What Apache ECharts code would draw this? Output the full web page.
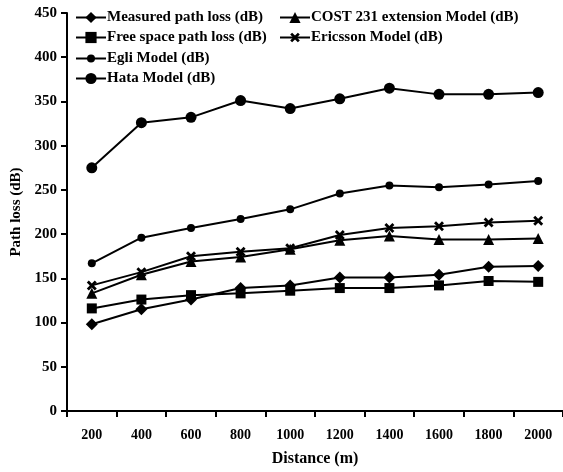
<!DOCTYPE html>
<html>
<head>
<meta charset="utf-8">
<script src="https://cdn.jsdelivr.net/npm/echarts@6/dist/echarts.min.js"></script>
<style>
  html, body { margin: 0; padding: 0; background: #fff; }
  #chart { width: 563px; height: 472px; }
</style>
</head>
<body>
<div id="chart"></div>
<script>
// Distance points (m)
const distances = ['200', '400', '600', '800', '1000', '1200', '1400', '1600', '1800', '2000'];

// Path loss values (dB) per model
const measured  = [98, 115, 126, 139, 142, 151, 151, 154, 163, 164];
const freeSpace = [116, 126, 131, 133, 136, 139, 139, 142, 147, 146];
const egli      = [167, 196, 207, 217, 228, 246, 255, 253, 256, 260];
const hata      = [275, 326, 332, 351, 342, 353, 365, 358, 358, 360];
const cost231   = [133, 154, 169, 174, 183, 193, 198, 194, 194, 195];
const ericsson  = [142, 157, 175, 180, 184, 199, 207, 209, 213, 215];

const yTicks = { min: 0, max: 450, interval: 50 };

const FONT = 'Liberation Serif';
const crossPath = 'path://M0,2 L2,0 L5,3 L8,0 L10,2 L7,5 L10,8 L8,10 L5,7 L2,10 L0,8 L3,5 Z';

function makeSeries(name, data, symbol, size) {
  return {
    name: name,
    type: 'line',
    data: data,
    symbol: symbol,
    symbolSize: size,
    lineStyle: { color: '#000', width: 2 },
    itemStyle: { color: '#000' },
    emphasis: { disabled: true },
    animation: false
  };
}

const legendText = {
  fontFamily: FONT, fontWeight: 'bold', fontSize: 15,
  color: '#000', padding: [0, 0, 0, -4]
};

// One legend entry per row so each key can keep its own marker size
function legendRow(name, left, top, markerSize) {
  return {
    left: left, top: top - 7, padding: 0,
    itemWidth: 30, itemHeight: markerSize,
    textStyle: legendText,
    data: [name]
  };
}

const chart = echarts.init(document.getElementById('chart'));
chart.setOption({
  backgroundColor: '#fff',
  animation: false,
  grid: { left: 67, right: 0, top: 13, bottom: 59 },
  legend: [
    legendRow('Measured path loss (dB)', 75, 17, 14),
    legendRow('Free space path loss (dB)', 75, 37, 14),
    legendRow('Egli Model (dB)', 75, 58, 10),
    legendRow('Hata Model (dB)', 75, 78, 14),
    legendRow('COST 231 extension Model (dB)', 279, 17, 14),
    legendRow('Ericsson Model (dB)', 279, 37, 12)
  ],
  xAxis: {
    type: 'category',
    data: distances,
    boundaryGap: true,
    name: 'Distance (m)',
    nameLocation: 'middle',
    nameGap: 40,
    nameTextStyle: { fontFamily: FONT, fontWeight: 'bold', fontSize: 16, color: '#000' },
    axisLine: { lineStyle: { color: '#000', width: 2 } },
    axisTick: { show: true, length: 6, inside: false, alignWithLabel: false, lineStyle: { color: '#000', width: 2 } },
    axisLabel: { fontFamily: FONT, fontWeight: 'bold', fontSize: 14, color: '#000', margin: 17 },
    splitLine: { show: false }
  },
  yAxis: {
    type: 'value',
    min: yTicks.min, max: yTicks.max, interval: yTicks.interval,
    name: 'Path loss (dB)',
    nameLocation: 'middle',
    nameGap: 42,
    nameTextStyle: { fontFamily: FONT, fontWeight: 'bold', fontSize: 15, color: '#000' },
    axisLine: { show: true, lineStyle: { color: '#000', width: 2 } },
    axisTick: { show: true, length: 6, lineStyle: { color: '#000', width: 2 } },
    axisLabel: { fontFamily: FONT, fontWeight: 'bold', fontSize: 15, color: '#000', margin: 10 },
    splitLine: { show: false }
  },
  series: [
    makeSeries('Measured path loss (dB)', measured, 'diamond', 12),
    makeSeries('Free space path loss (dB)', freeSpace, 'rect', 10),
    makeSeries('Egli Model (dB)', egli, 'circle', 8),
    makeSeries('Hata Model (dB)', hata, 'circle', 11),
    makeSeries('COST 231 extension Model (dB)', cost231, 'triangle', 11),
    makeSeries('Ericsson Model (dB)', ericsson, crossPath, 10)
  ]
});
</script>
</body>
</html>
